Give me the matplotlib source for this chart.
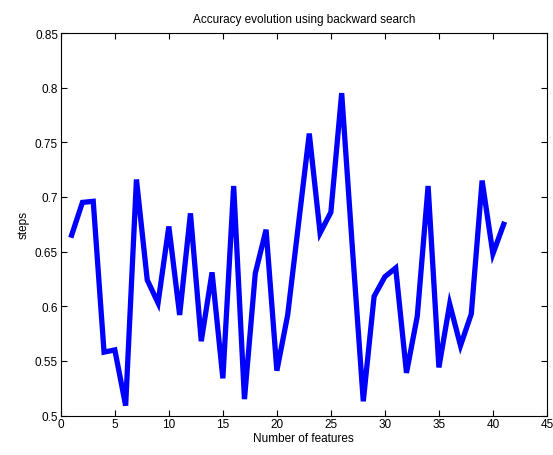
import matplotlib
matplotlib.use("Agg")
import matplotlib.pyplot as plt

# number of features kept in each step of the backward search
n_features = list(range(1, 42))
accuracy = [
    0.665, 0.695, 0.696, 0.558, 0.560, 0.509, 0.716, 0.624, 0.603, 0.673,
    0.592, 0.685, 0.568, 0.631, 0.534, 0.710, 0.515, 0.630, 0.670, 0.541,
    0.592, 0.675, 0.758, 0.667, 0.686, 0.795, 0.652, 0.513, 0.609, 0.627,
    0.635, 0.539, 0.591, 0.710, 0.544, 0.602, 0.564, 0.593, 0.715, 0.648,
    0.675,
]
x_ticks = [0, 5, 10, 15, 20, 25, 30, 35, 40, 45]
y_ticks = [0.5, 0.55, 0.6, 0.65, 0.7, 0.75, 0.8, 0.85]

plt.rcParams["font.family"] = ["Liberation Sans", "DejaVu Sans"]

fig = plt.figure(figsize=(5.53, 4.56), dpi=100)
ax = fig.add_axes([0.110, 0.0866, 0.879, 0.8388])

ax.plot(n_features, accuracy, color="#0000ff", lw=3.8, solid_joinstyle="miter")

ax.set_xlim(0, 45)
ax.set_ylim(0.5, 0.85)
ax.set_xticks(x_ticks)
ax.set_yticks(y_ticks)
ax.set_xticklabels([str(t) for t in x_ticks])
ax.set_yticklabels(["0.5", "0.55", "0.6", "0.65", "0.7", "0.75", "0.8", "0.85"])
ax.tick_params(direction="in", top=True, right=True, labelsize=8.5, length=4,
               width=0.8, pad=2)
for s in ax.spines.values():
    s.set_linewidth(0.8)

ax.set_title("Accuracy evolution using backward search", fontsize=8.5, pad=8)
ax.set_xlabel("Number of features", fontsize=8.5, labelpad=1)
ax.set_ylabel("steps", fontsize=8.5, labelpad=4)

fig.savefig("out.png", dpi=100, facecolor="white")
